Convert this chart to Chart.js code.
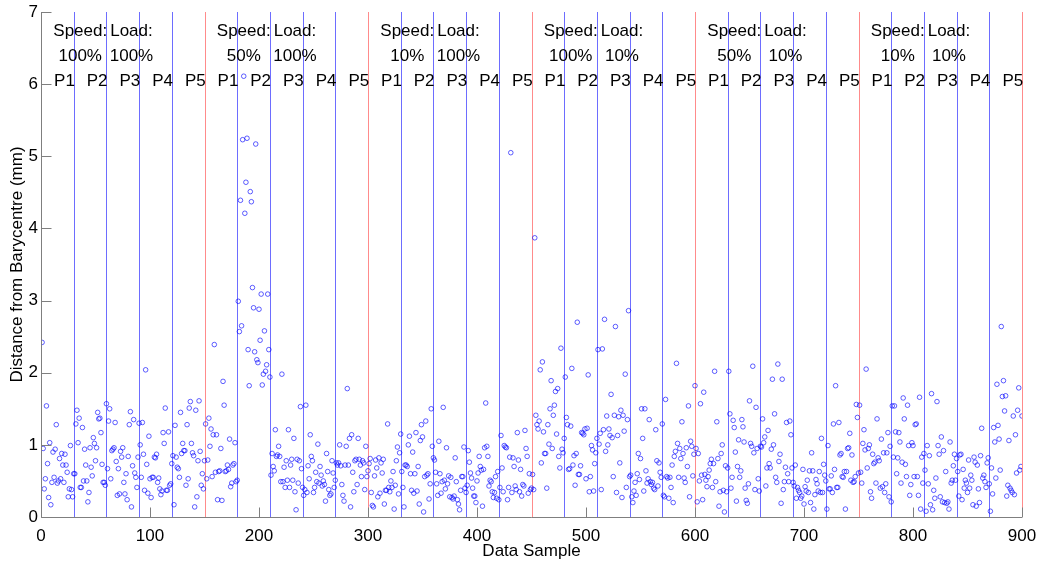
<!DOCTYPE html>
<html>
<head>
<meta charset="utf-8">
<script src="https://cdn.jsdelivr.net/npm/chart.js@4"></script>
<style>
  body { margin: 0; background: #fff; }
  #wrap { width: 1041px; height: 565px; }
</style>
</head>
<body>
<div id="wrap"><canvas id="chart" width="1041" height="565"></canvas></div>
<script>
// Distance from barycentre (mm), one array per speed/load run, 150 samples each (P1..P5 x 30)
var speed100Load100 = [
  2.42, 0.95, 0.39, 0.53, 1.54, 0.74, 0.27, 1.03, 0.17, 0.48, 0.9, 0.55, 0.94, 1.28, 0.47, 0.5, 0.81, 0.53, 0.88, 0.72, 0.48, 0.87, 0.72, 0.62, 0.28, 0.39, 0.99, 0.38, 0.28, 0.6,
  0.6, 1.29, 1.48, 1.03, 1.37, 0.41, 0.41, 1.24, 0.5, 0.94, 0.72, 0.5, 0.21, 0.34, 0.96, 0.69, 0.57, 1.1, 1.02, 0.78, 0.96, 1.45, 1.36, 1.37, 1.17, 0.73, 0.48, 0.48, 0.44, 1.57,
  0.67, 1.33, 1.5, 0.53, 0.92, 0.94, 0.96, 1.31, 0.77, 0.3, 0.67, 0.32, 0.91, 0.83, 0.96, 0.48, 0.32, 0.6, 0.24, 0.84, 1.28, 1.46, 0.14, 0.71, 1.35, 0.61, 0.55, 0.41, 0.83, 1.3,
  1.0, 0.55, 1.31, 0.87, 0.37, 2.04, 0.73, 0.33, 1.12, 0.53, 0.27, 0.55, 0.55, 0.83, 0.82, 0.87, 0.48, 0.54, 0.39, 0.31, 0.36, 1.17, 1.02, 1.51, 0.37, 0.37, 1.18, 0.44, 0.46, 0.74,
  0.85, 0.17, 1.27, 0.83, 0.69, 0.67, 0.55, 1.45, 0.88, 1.02, 0.92, 0.92, 0.44, 1.28, 0.53, 1.51, 1.6, 1.02, 0.89, 0.85, 0.14, 1.48, 0.28, 0.78, 1.61, 0.91, 0.44, 0.6, 0.39, 0.78
];
var speed50Load100 = [
  1.29, 0.53, 0.79, 1.37, 0.98, 1.22, 0.56, 1.14, 2.39, 0.62, 1.14, 0.24, 0.63, 0.64, 0.95, 0.23, 1.88, 1.55, 0.63, 0.64, 0.72, 0.66, 1.08, 0.42, 0.47, 0.72, 0.74, 1.03, 0.49, 0.51,
  2.99, 2.57, 4.39, 2.65, 5.23, 6.11, 4.21, 4.64, 5.25, 2.32, 1.82, 4.51, 4.37, 3.18, 2.9, 2.29, 5.17, 2.18, 2.14, 2.88, 2.45, 3.09, 1.83, 1.98, 2.58, 2.02, 2.11, 3.09, 2.32, 1.94,
  0.58, 0.88, 0.7, 0.64, 1.21, 0.84, 0.86, 0.98, 0.84, 0.49, 1.98, 0.49, 0.69, 0.41, 0.78, 0.51, 1.21, 0.41, 0.72, 0.8, 0.51, 1.09, 0.35, 0.1, 0.8, 0.47, 0.78, 1.53, 0.67, 0.41,
  0.3, 0.38, 1.55, 0.34, 0.71, 0.53, 1.14, 0.84, 0.78, 0.34, 0.41, 0.62, 0.49, 1.01, 0.47, 0.7, 0.58, 0.43, 0.5, 0.45, 0.22, 0.88, 0.63, 0.38, 0.3, 0.32, 0.78, 0.61, 0.41, 0.51,
  0.75, 0.72, 0.75, 1.0, 0.71, 0.45, 0.3, 0.22, 0.72, 0.98, 1.78, 0.72, 1.09, 0.14, 1.14, 0.62, 0.35, 0.78, 0.8, 0.45, 1.09, 0.8, 0.72, 0.56, 0.78, 0.75, 0.38, 0.98, 0.56, 0.64
];
var speed10Load100 = [
  0.74, 0.81, 0.34, 0.16, 0.14, 0.57, 0.79, 0.68, 0.28, 0.82, 0.33, 0.75, 0.61, 0.8, 0.18, 0.37, 0.37, 1.29, 0.41, 0.35, 0.5, 0.41, 0.63, 0.11, 0.44, 0.78, 0.97, 0.32, 0.89, 1.15,
  0.63, 0.41, 0.14, 0.72, 0.72, 0.7, 1.0, 1.12, 0.6, 0.37, 0.9, 0.33, 0.6, 1.17, 0.36, 0.7, 0.18, 1.06, 1.28, 1.11, 0.07, 0.56, 1.33, 0.58, 0.6, 0.25, 0.46, 1.5, 0.98, 0.82,
  0.79, 0.62, 0.46, 0.3, 1.05, 0.6, 0.33, 0.49, 1.52, 0.51, 0.39, 0.96, 0.46, 0.57, 0.28, 0.55, 0.27, 0.25, 0.29, 0.82, 0.49, 0.24, 0.18, 0.1, 0.37, 0.56, 0.56, 0.97, 0.4, 0.34,
  0.44, 0.92, 0.76, 0.61, 0.54, 0.4, 0.29, 0.29, 0.2, 0.5, 0.61, 0.84, 0.7, 0.65, 0.15, 0.66, 0.96, 1.58, 0.98, 0.84, 0.43, 0.51, 0.49, 0.35, 0.27, 0.34, 0.56, 0.26, 0.63, 0.24,
  0.41, 1.13, 0.68, 0.35, 0.99, 0.97, 0.96, 0.24, 0.41, 0.83, 5.05, 0.34, 0.82, 0.7, 0.43, 0.38, 1.17, 0.79, 0.35, 0.66, 0.29, 0.45, 0.43, 1.2, 0.95, 0.84, 0.33, 0.6, 0.38, 0.4
];
var speed100Load10 = [
  0.59, 0.38, 3.87, 1.41, 1.28, 1.22, 1.33, 2.04, 0.75, 2.15, 1.18, 0.88, 0.88, 0.4, 1.28, 1.01, 1.5, 1.89, 0.95, 1.41, 1.55, 1.74, 1.15, 1.78, 0.84, 0.68, 2.34, 0.94, 0.89, 1.09,
  1.94, 1.38, 1.28, 0.66, 0.67, 1.26, 2.06, 0.72, 0.85, 0.44, 0.88, 2.7, 0.59, 0.59, 0.71, 1.17, 1.16, 1.14, 1.22, 0.53, 1.23, 1.97, 0.35, 0.56, 0.99, 0.93, 0.36, 0.74, 0.89, 1.09,
  2.32, 1.01, 1.16, 0.38, 2.33, 1.21, 2.74, 0.91, 1.4, 1.0, 1.22, 1.13, 1.7, 1.1, 0.56, 1.41, 2.64, 0.34, 1.13, 1.39, 0.75, 1.48, 0.27, 1.41, 1.19, 1.98, 0.41, 1.35, 2.86, 0.56,
  0.58, 0.28, 0.2, 0.36, 0.48, 0.3, 0.6, 0.88, 0.52, 0.81, 1.5, 1.09, 0.36, 1.5, 0.64, 0.47, 0.53, 1.35, 0.49, 0.45, 0.48, 0.4, 0.38, 1.21, 0.78, 0.43, 0.75, 0.62, 0.55, 1.29,
  0.3, 0.28, 1.63, 0.56, 0.54, 0.26, 0.55, 0.41, 0.72, 0.2, 0.84, 0.91, 2.13, 1.02, 0.55, 0.95, 0.81, 1.32, 0.88, 0.54, 0.48, 0.96, 0.7, 1.54, 0.28, 1.05, 0.98, 0.57, 0.87, 1.82
];
var speed50Load10 = [
  0.95, 0.21, 0.88, 0.5, 1.57, 0.58, 0.24, 1.73, 0.59, 0.51, 0.42, 0.56, 0.65, 0.74, 0.8, 0.41, 0.74, 2.02, 0.49, 1.32, 0.81, 0.15, 0.35, 0.88, 1.0, 0.37, 0.07, 0.71, 0.35, 0.68,
  2.02, 1.43, 0.4, 0.55, 1.34, 1.24, 0.9, 0.22, 0.7, 1.07, 0.55, 0.64, 1.35, 1.25, 1.04, 0.4, 0.23, 0.19, 0.46, 1.61, 1.02, 0.98, 2.09, 0.89, 0.38, 1.52, 0.95, 0.53, 0.36, 0.98,
  0.97, 1.36, 1.03, 1.11, 0.43, 0.68, 1.2, 0.74, 0.68, 0.94, 1.91, 1.0, 1.43, 0.55, 0.48, 2.12, 0.77, 0.87, 0.19, 1.91, 0.38, 0.49, 0.69, 1.31, 0.6, 0.49, 1.33, 1.14, 0.68, 0.48,
  0.43, 0.72, 0.26, 0.41, 0.37, 0.34, 0.26, 0.29, 0.66, 0.18, 0.42, 0.36, 0.51, 0.34, 0.64, 0.2, 0.89, 0.64, 0.11, 0.31, 0.52, 0.46, 0.36, 0.63, 0.34, 1.09, 0.34, 0.73, 0.58, 0.5,
  0.11, 0.99, 0.39, 0.39, 0.57, 0.34, 1.29, 0.66, 1.82, 0.41, 0.41, 1.31, 0.86, 0.88, 0.56, 0.55, 0.63, 0.11, 0.63, 0.95, 0.96, 1.16, 0.51, 0.86, 0.48, 0.49, 0.56, 1.56, 1.38, 0.61
];
var speed10Load10 = [
  1.55, 0.62, 0.47, 1.02, 1.21, 0.93, 2.05, 0.68, 0.95, 1.0, 0.35, 0.26, 0.87, 0.74, 0.76, 0.47, 1.36, 0.82, 0.78, 0.4, 1.08, 0.42, 0.89, 0.34, 0.46, 0.89, 1.17, 0.28, 0.98, 0.21,
  1.54, 0.83, 1.54, 1.18, 0.6, 0.82, 1.17, 1.04, 0.47, 0.76, 1.65, 1.36, 0.73, 0.56, 1.55, 0.99, 0.3, 0.45, 1.03, 0.99, 0.56, 1.28, 1.29, 0.56, 0.3, 1.66, 0.11, 0.83, 0.47, 0.88,
  0.65, 0.08, 0.99, 0.46, 0.85, 0.17, 1.71, 0.1, 0.37, 0.26, 0.54, 1.6, 0.99, 0.87, 0.28, 1.11, 0.21, 0.92, 0.2, 0.63, 0.19, 0.21, 0.11, 1.04, 0.47, 0.51, 0.71, 0.87, 0.51, 0.81,
  0.63, 0.29, 0.86, 0.87, 0.24, 0.66, 0.4, 0.51, 0.47, 0.34, 0.79, 0.4, 0.58, 0.51, 0.17, 0.83, 0.76, 0.15, 0.72, 0.39, 0.2, 0.85, 1.23, 0.54, 0.58, 0.49, 0.41, 0.75, 0.82, 0.46,
  0.08, 0.68, 0.32, 1.24, 1.04, 0.54, 1.84, 1.27, 1.08, 0.65, 2.64, 1.67, 1.89, 1.47, 1.68, 0.29, 0.44, 1.06, 0.4, 0.37, 0.34, 1.4, 0.31, 1.14, 0.61, 1.48, 1.79, 0.65, 0.7, 1.4
];

var runs        = [speed100Load100, speed50Load100, speed10Load100, speed100Load10, speed50Load10, speed10Load10];
var speedLabels = ["100%", "50%", "10%", "100%", "50%", "10%"];
var loadLabels  = ["100%", "100%", "100%", "10%", "10%", "10%"];
var posLabels   = ["P1", "P2", "P3", "P4", "P5"];
var segLength   = 30;

var FONT = "'Liberation Sans', Arial, Helvetica, sans-serif";
var AXIS_GRAY = "#7f7f7f";

// Build scatter points (sample index starts at 1)
var points = [];
var sample = 1;
for (var r = 0; r < runs.length; r++) {
  for (var i = 0; i < runs[r].length; i++) {
    points.push({ x: sample, y: runs[r][i] });
    sample++;
  }
}
var runLength = runs[0].length;
var totalSamples = points.length;

// Separator lines, axes and annotation text
var overlay = {
  id: "overlay",
  beforeDatasetsDraw: function (chart) {
    var ctx = chart.ctx;
    var xs = chart.scales.x, ys = chart.scales.y;
    var top = Math.round(ys.getPixelForValue(ys.max));
    var bottom = Math.round(ys.getPixelForValue(0));
    ctx.save();
    ctx.lineWidth = 1;
    for (var s = segLength; s <= totalSamples; s += segLength) {
      var px = Math.round(xs.getPixelForValue(s)) + 0.5;
      ctx.strokeStyle = (s % runLength === 0) ? "rgba(255,90,90,0.7)" : "rgba(60,60,255,0.75)";
      ctx.beginPath();
      ctx.moveTo(px, top);
      ctx.lineTo(px, bottom);
      ctx.stroke();
    }
    ctx.restore();
  },
  afterDatasetsDraw: function (chart) {
    var ctx = chart.ctx;
    var xs = chart.scales.x, ys = chart.scales.y;
    var left = Math.round(xs.getPixelForValue(0)) + 0.5;
    var right = Math.round(xs.getPixelForValue(xs.max));
    var top = Math.round(ys.getPixelForValue(ys.max));
    var bottom = Math.round(ys.getPixelForValue(0)) + 0.5;

    ctx.save();
    ctx.strokeStyle = AXIS_GRAY;
    ctx.lineWidth = 1;
    ctx.beginPath();
    ctx.moveTo(left, top);
    ctx.lineTo(left, bottom);
    ctx.lineTo(right, bottom);
    ctx.stroke();

    // inward tick marks
    ctx.beginPath();
    ys.ticks.forEach(function (t) {
      var py = Math.round(ys.getPixelForValue(t.value)) + 0.5;
      ctx.moveTo(left, py);
      ctx.lineTo(left + 10, py);
    });
    xs.ticks.forEach(function (t) {
      var px = Math.round(xs.getPixelForValue(t.value)) + 0.5;
      ctx.moveTo(px, bottom);
      ctx.lineTo(px, bottom - 10);
    });
    ctx.stroke();

    // annotations
    ctx.fillStyle = "#000";
    ctx.font = "17px " + FONT;
    ctx.textBaseline = "middle";
    for (var r = 0; r < runs.length; r++) {
      var start = r * runLength;
      ctx.textAlign = "center";
      ctx.fillText("Speed:", xs.getPixelForValue(start + 36), ys.getPixelForValue(6.73));
      ctx.fillText(speedLabels[r], xs.getPixelForValue(start + 36), ys.getPixelForValue(6.39));
      ctx.fillText("Load:", xs.getPixelForValue(start + 83), ys.getPixelForValue(6.73));
      ctx.fillText(loadLabels[r], xs.getPixelForValue(start + 83), ys.getPixelForValue(6.39));
      ctx.textAlign = "left";
      for (var p = 0; p < posLabels.length; p++) {
        ctx.fillText(posLabels[p], xs.getPixelForValue(start + p * segLength + 12), ys.getPixelForValue(6.04));
      }
    }
    ctx.restore();
  }
};

var chart = new Chart(document.getElementById("chart"), {
  type: "scatter",
  data: {
    datasets: [{
      data: points,
      showLine: false,
      pointStyle: "circle",
      pointRadius: 2.3,
      pointBorderWidth: 0.9,
      pointBorderColor: "rgba(0,0,255,0.7)",
      pointBackgroundColor: "rgba(0,0,0,0)"
    }]
  },
  options: {
    responsive: false,
    animation: false,
    layout: { padding: { top: 12, right: 19, left: 0, bottom: 0 } },
    plugins: { legend: { display: false }, tooltip: { enabled: false } },
    scales: {
      x: {
        type: "linear",
        min: 0,
        max: 900,
        afterFit: function (s) { s.height = 48; s.paddingLeft = 0; s.paddingRight = 0; },
        ticks: { stepSize: 100, padding: 9, color: "#000", font: { family: FONT, size: 17 } },
        grid: { display: false, drawTicks: false },
        border: { display: false },
        title: { display: true, text: "Data Sample", color: "#000", padding: { top: 0, bottom: 3 }, font: { family: FONT, size: 17 } }
      },
      y: {
        min: 0,
        max: 7,
        afterFit: function (s) { s.width = 41; s.paddingTop = 0; s.paddingBottom = 0; },
        ticks: { stepSize: 1, padding: 3, color: "#000", font: { family: FONT, size: 17 } },
        grid: { display: false, drawTicks: false },
        border: { display: false },
        title: { display: true, text: "Distance from Barycentre (mm)", color: "#000", padding: { top: 7, bottom: 0 }, font: { family: FONT, size: 17 } }
      }
    }
  },
  plugins: [overlay]
});
</script>
</body>
</html>
